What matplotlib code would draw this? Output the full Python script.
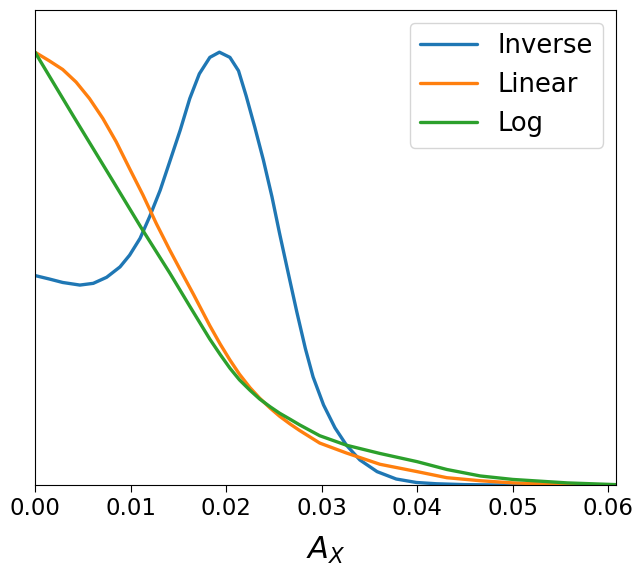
import matplotlib
matplotlib.use("Agg")
import matplotlib.pyplot as plt

# Inverse
inv_x = [0.0, 0.0015, 0.0029, 0.0047, 0.0061, 0.0075, 0.0089, 0.0099, 0.0110, 0.0120,
         0.0131, 0.0141, 0.0152, 0.0162, 0.0172, 0.0183, 0.0193, 0.0204, 0.0213, 0.0221,
         0.0230, 0.0239, 0.0248, 0.0256, 0.0265, 0.0274, 0.0283, 0.0291, 0.0302, 0.0314,
         0.0326, 0.0340, 0.0358, 0.0378, 0.0399, 0.042, 0.045, 0.048, 0.052, 0.056, 0.0608]
inv_y = [0.484, 0.476, 0.468, 0.462, 0.466, 0.480, 0.504, 0.531, 0.570, 0.620,
         0.681, 0.747, 0.820, 0.893, 0.950, 0.988, 1.000, 0.988, 0.957, 0.899,
         0.827, 0.751, 0.666, 0.581, 0.490, 0.400, 0.315, 0.250, 0.185, 0.132,
         0.092, 0.058, 0.031, 0.014, 0.006, 0.003, 0.001, 0.0003, 0.0001, 0.0, 0.0]

# Linear
lin_x = [0.0, 0.0015, 0.0029, 0.0043, 0.0057, 0.0071, 0.0085, 0.0099, 0.0113, 0.0127,
         0.0141, 0.0155, 0.0166, 0.0183, 0.0194, 0.0204, 0.0214, 0.0225, 0.0235, 0.0246,
         0.0256, 0.0267, 0.0277, 0.0298, 0.0326, 0.0361, 0.0400, 0.0431, 0.0466, 0.050,
         0.054, 0.058, 0.0608]
lin_y = [1.0, 0.980, 0.960, 0.931, 0.893, 0.847, 0.793, 0.731, 0.670, 0.604,
         0.543, 0.485, 0.440, 0.368, 0.325, 0.289, 0.256, 0.225, 0.201, 0.178,
         0.159, 0.141, 0.126, 0.097, 0.074, 0.048, 0.031, 0.017, 0.010, 0.005,
         0.002, 0.0005, 0.0002]

# Log
log_x = [0.0, 0.004, 0.008, 0.0111, 0.0141, 0.0162, 0.0183, 0.0194, 0.0204, 0.0214,
         0.0225, 0.0235, 0.0246, 0.0256, 0.0267, 0.0277, 0.0298, 0.0326, 0.0361, 0.0400,
         0.0431, 0.0466, 0.050, 0.0557, 0.0608]
log_y = [1.0, 0.853, 0.708, 0.595, 0.490, 0.413, 0.337, 0.301, 0.270, 0.243,
         0.219, 0.199, 0.181, 0.166, 0.152, 0.139, 0.114, 0.092, 0.073, 0.054,
         0.036, 0.021, 0.013, 0.005, 0.001]

series = [("Inverse", inv_x, inv_y, "#1f77b4"),
          ("Linear", lin_x, lin_y, "#ff7f0e"),
          ("Log", log_x, log_y, "#2ca02c")]

fig = plt.figure(figsize=(6.36, 5.66), dpi=100)
ax = fig.add_axes([0.055, 0.143, 0.9135, 0.839])
for name, xs, ys, c in series:
    ax.plot(xs, ys, color=c, lw=2.4, label=name,
            solid_joinstyle="round", solid_capstyle="round")

ax.set_xlim(0, 0.0608)
ax.set_ylim(0, 1.097)
ax.set_yticks([])
ax.set_xticks([0.0, 0.01, 0.02, 0.03, 0.04, 0.05, 0.06])
ax.set_xticklabels(["0.00", "0.01", "0.02", "0.03", "0.04", "0.05", "0.06"])
ax.tick_params(axis="x", labelsize=16.5, length=5)
ax.set_xlabel("$A_X$", fontsize=22, labelpad=11)
ax.legend(loc="upper right", fontsize=18.6, handlelength=2.2)

fig.savefig("out.png", dpi=100)
